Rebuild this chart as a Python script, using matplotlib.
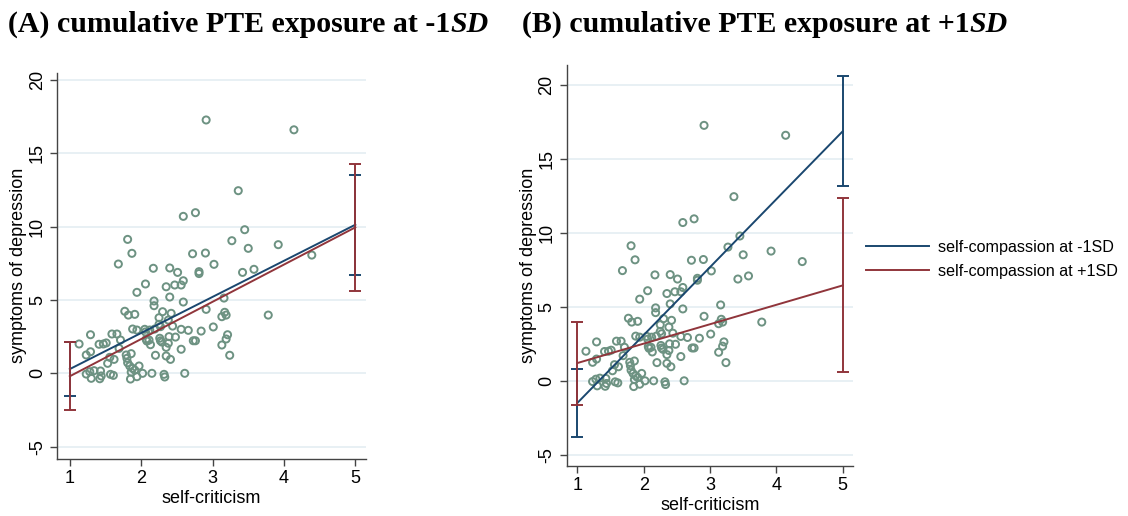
import matplotlib
matplotlib.use('Agg')
import matplotlib.pyplot as plt
from matplotlib.lines import Line2D

# ---- data ----
self_criticism = [2.91, 4.14, 3.36, 2.59, 2.76, 1.81, 1.87, 1.68, 3.45, 3.27, 3.50, 3.92, 4.39,
                  2.72, 2.90, 3.02, 2.17, 2.40, 2.51, 2.81, 2.81, 3.42, 3.58, 2.59, 2.56, 2.47,
                  2.35, 2.06, 1.94, 2.40, 2.18, 2.18, 2.59, 3.16, 2.91, 1.77, 1.82, 1.91, 2.30,
                  2.42, 3.17, 3.19, 3.13, 3.78, 2.25, 2.38, 2.25, 2.44, 2.27, 2.56, 2.66, 2.84,
                  3.01, 1.88, 1.94, 2.05, 2.06, 2.12, 2.19, 1.59, 1.66, 1.29, 1.71, 2.07, 2.08,
                  2.11, 2.13, 2.26, 2.27, 2.29, 2.39, 2.48, 2.38, 2.35, 2.56, 2.73, 2.76, 3.13,
                  3.19, 3.21, 3.24, 1.13, 1.41, 1.47, 1.51, 1.69, 1.29, 1.23, 1.56, 1.62, 1.53,
                  1.79, 1.86, 1.81, 1.84, 1.88, 1.97, 1.91, 2.02, 1.94, 1.85, 2.15, 2.32, 2.33,
                  2.61, 2.20, 2.35, 2.41, 1.23, 1.28, 1.34, 1.43, 1.44, 1.30, 1.42, 1.57, 1.61,
                  1.80, 1.86]
depression = [17.27, 16.60, 12.45, 10.70, 10.95, 9.13, 8.18, 7.45, 9.79, 9.04, 8.52, 8.77, 8.06,
              8.15, 8.20, 7.43, 7.16, 7.18, 6.88, 6.93, 6.80, 6.88, 7.09, 6.31, 6.02, 6.02,
              5.90, 6.09, 5.52, 5.20, 4.93, 4.61, 4.86, 5.13, 4.36, 4.23, 3.97, 4.02, 4.20,
              4.09, 4.16, 3.97, 3.86, 3.97, 3.79, 3.63, 3.34, 3.22, 3.18, 3.00, 2.93, 2.88,
              3.16, 3.02, 2.95, 3.00, 2.82, 2.95, 3.02, 2.68, 2.68, 2.63, 2.27, 2.32, 2.20,
              2.27, 1.95, 2.39, 2.22, 2.13, 2.50, 2.47, 2.05, 1.77, 1.64, 2.22, 2.22, 1.93,
              2.34, 2.63, 1.23, 2.00, 1.98, 2.00, 2.07, 1.70, 1.47, 1.25, 1.09, 0.95, 0.68,
              1.25, 1.34, 0.72, 0.50, 0.34, 0.50, 0.22, 0.00, -0.23, -0.39, 0.00, -0.07, -0.25,
              0.00, 1.23, 1.18, 0.95, -0.05, 0.11, 0.18, 0.16, -0.18, -0.34, -0.37, -0.07, -0.14,
              1.02, 0.08]

x_pred = [1, 5]
# Panel A: cumulative PTE exposure at -1SD
a_low_fit = [0.29, 10.13]
a_low_lo = [-1.53, 6.70]
a_low_hi = [2.11, 13.54]
a_high_fit = [-0.20, 9.95]
a_high_lo = [-2.52, 5.63]
a_high_hi = [2.11, 14.27]
# Panel B: cumulative PTE exposure at +1SD
b_low_fit = [-1.50, 16.87]
b_low_lo = [-3.78, 13.18]
b_low_hi = [0.81, 20.59]
b_high_fit = [1.20, 6.45]
b_high_lo = [-1.64, 0.61]
b_high_hi = [3.99, 12.39]

x_ticks = [1, 2, 3, 4, 5]
y_ticks = [-5, 0, 5, 10, 15, 20]
legend_labels = ["self-compassion at -1SD", "self-compassion at +1SD"]

BLUE = '#1a476f'
RED = '#90353b'
DOT = '#6d9282'
GRID = '#e6eff3'

plt.rcParams['font.family'] = ['Liberation Sans', 'DejaVu Sans']

fig = plt.figure(figsize=(11.28, 5.16), dpi=100)
axA = fig.add_axes([0.0505, 0.1105, 0.274, 0.7488])
axB = fig.add_axes([0.5024, 0.0969, 0.2541, 0.7771])


def draw_panel(ax, low_fit, low_lo, low_hi, high_fit, high_lo, high_hi, ylim, xlim):
    ax.set_xlim(*xlim)
    ax.set_ylim(*ylim)
    for yt in y_ticks:
        ax.axhline(yt, color=GRID, lw=1.3, zorder=0)
    ax.scatter(self_criticism, depression, s=26, facecolors='none', edgecolors=DOT,
               linewidths=1.4, zorder=2)
    ax.plot(x_pred, low_fit, color=BLUE, lw=1.4, zorder=3)
    ax.plot(x_pred, high_fit, color=RED, lw=1.4, zorder=3)
    lf = low_fit
    ax.errorbar(x_pred, lf, yerr=[[lf[i] - low_lo[i] for i in range(2)],
                                  [low_hi[i] - lf[i] for i in range(2)]],
                fmt='none', ecolor=BLUE, elinewidth=1.4, capsize=4.5, capthick=1.4, zorder=4)
    hf = high_fit
    ax.errorbar(x_pred, hf, yerr=[[hf[i] - high_lo[i] for i in range(2)],
                                  [high_hi[i] - hf[i] for i in range(2)]],
                fmt='none', ecolor=RED, elinewidth=1.4, capsize=4.5, capthick=1.4, zorder=4)
    ax.set_xticks(x_ticks)
    ax.set_yticks(y_ticks)
    ax.set_yticklabels([str(v) for v in y_ticks], rotation=90, va='center')
    ax.tick_params(axis='both', labelsize=13, length=5, width=1, color='#444444',
                   direction='out')
    ax.tick_params(axis='x', pad=3)
    ax.tick_params(axis='y', pad=3)
    for s in ['top', 'right']:
        ax.spines[s].set_visible(False)
    for s in ['left', 'bottom']:
        ax.spines[s].set_color('#444444')
        ax.spines[s].set_linewidth(1.0)
    ax.set_xlabel('self-criticism', fontsize=13, labelpad=2)
    ax.set_ylabel('symptoms of depression', fontsize=13, labelpad=1)


draw_panel(axA, a_low_fit, a_low_lo, a_low_hi, a_high_fit, a_high_lo, a_high_hi,
           (-5.84, 20.5), (0.82, 5.15))
draw_panel(axB, b_low_fit, b_low_lo, b_low_hi, b_high_fit, b_high_lo, b_high_hi,
           (-5.76, 21.35), (0.84, 5.16))

handles = [Line2D([], [], color=BLUE, lw=1.4), Line2D([], [], color=RED, lw=1.4)]
fig.legend(handles, legend_labels, loc='center left', bbox_to_anchor=(866 / 1128, 0.497),
           frameon=False, fontsize=11.6, handlelength=3.9, handletextpad=0.6,
           labelspacing=0.55, borderpad=0, borderaxespad=0)

# Titles with italic SD
title_kw = dict(fontfamily='Liberation Serif', fontweight='bold', fontsize=21.5, va='baseline')
tA = fig.text(8 / 1128, 1 - 32 / 516, '(A) cumulative PTE exposure at -1', **title_kw)
tB = fig.text(522 / 1128, 1 - 32 / 516, '(B) cumulative PTE exposure at +1', **title_kw)
fig.canvas.draw()
r = fig.canvas.get_renderer()
for t in (tA, tB):
    bb = t.get_window_extent(renderer=r)
    x1 = bb.x1 / fig.bbox.width
    fig.text(x1, 1 - 32 / 516, 'SD', fontstyle='italic', **title_kw)

fig.savefig('out.png', dpi=100)
